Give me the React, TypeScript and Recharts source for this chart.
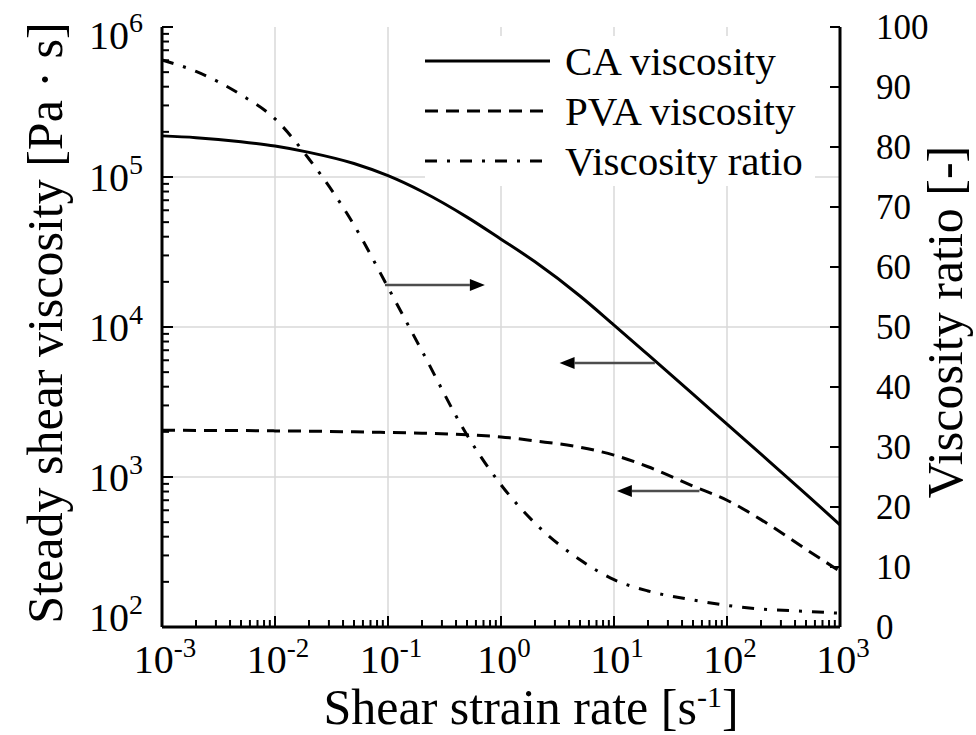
import React from "react";
import { LineChart, Line, XAxis, YAxis, ReferenceLine, Legend } from "recharts";

const SERIF = '"Liberation Serif", "Times New Roman", serif';

// shear strain rate [1/s]
const RATES = [0.001, 0.002, 0.005, 0.01, 0.02, 0.05, 0.1, 0.2, 0.5, 1, 2, 5, 10, 20, 50, 100, 200, 500, 1000];
// steady shear viscosity [Pa s]
const CA_VISCOSITY = [188000, 183000, 172000, 161000, 146000, 123000, 102000, 80000, 54000, 38500, 27200, 16100, 10300, 6540, 3570, 2250, 1420, 770, 480];
const PVA_VISCOSITY = [2050, 2045, 2040, 2030, 2020, 2000, 1980, 1960, 1910, 1850, 1740, 1580, 1400, 1170, 870, 700, 520, 330, 235];
// viscosity ratio [-]
const VISCOSITY_RATIO = [94.5, 92.6, 88.7, 84.7, 78, 67, 56.6, 46, 32, 23.7, 17.3, 11.2, 7.9, 6.0, 4.5, 3.6, 3.0, 2.6, 2.3];

const SERIES_NAMES = ["CA viscosity", "PVA viscosity", "Viscosity ratio"];
const SERIES_DASH = [undefined, "13 8", "12 10 3 10"];

const X_DECADES = [0.001, 0.01, 0.1, 1, 10, 100, 1000];
const X_EXPONENTS = ["-3", "-2", "-1", "0", "1", "2", "3"];
const Y_DECADES = [100, 1000, 10000, 100000, 1000000];
const Y_EXPONENTS = ["2", "3", "4", "5", "6"];
const RATIO_TICKS = [0, 10, 20, 30, 40, 50, 60, 70, 80, 90, 100];

// annotation arrows, [rate, value] pairs on the given axis
const ARROWS = [
  { from: [0.094, 57], to: [0.72, 57], axis: "right" },
  { from: [23, 5760], to: [3.3, 5760], axis: "left" },
  { from: [57, 807], to: [10.6, 807], axis: "left" },
];

const withMinor = (decades: number[]) =>
  decades.flatMap((d, i) =>
    i === decades.length - 1 ? [d] : [1, 2, 3, 4, 5, 6, 7, 8, 9].map((m) => m * d)
  );

const data = RATES.map((rate, i) => ({
  rate,
  ca: CA_VISCOSITY[i],
  pva: PVA_VISCOSITY[i],
  ratio: VISCOSITY_RATIO[i],
}));

const BottomTick = (props: any) => {
  const { x, y, payload } = props;
  const idx = X_DECADES.indexOf(payload.value);
  const major = idx >= 0;
  return (
    <g>
      <line x1={x} x2={x} y1={y} y2={y - (major ? 11 : 7)} stroke="#000" strokeWidth={2} />
      {major && (
        <text x={x + 3} y={y + 46} textAnchor="middle" fontFamily={SERIF} fontSize={40} fill="#000">
          10
          <tspan dy={-16} fontSize={27}>{X_EXPONENTS[idx]}</tspan>
        </text>
      )}
    </g>
  );
};

const LeftTick = (props: any) => {
  const { x, y, payload } = props;
  const idx = Y_DECADES.indexOf(payload.value);
  const major = idx >= 0;
  // the end labels sit slightly inside the axis range
  const shift = idx === 0 ? -10 : idx === Y_DECADES.length - 1 ? 8 : 0;
  return (
    <g>
      <line x1={x} x2={x + (major ? 11 : 7)} y1={y} y2={y} stroke="#000" strokeWidth={2} />
      {major && (
        <text x={x - 19} y={y + 14 + shift} textAnchor="end" fontFamily={SERIF} fontSize={40} fill="#000">
          10
          <tspan dy={-17} fontSize={28}>{Y_EXPONENTS[idx]}</tspan>
        </text>
      )}
    </g>
  );
};

const RightTick = (props: any) => {
  const { x, y, payload } = props;
  return (
    <g>
      <line x1={x} x2={x - 10} y1={y} y2={y} stroke="#000" strokeWidth={2} />
      <text x={x + 36} y={y + 12} textAnchor="start" fontFamily={SERIF} fontSize={35} fill="#000">
        {payload.value}
      </text>
    </g>
  );
};

const Arrow = (props: any) => {
  const { x1, y1, x2, y2 } = props;
  const dir = Math.sign(x2 - x1);
  const head = 15;
  return (
    <g>
      <line x1={x1} y1={y1} x2={x2 - dir * head} y2={y2} stroke="#4d4d4d" strokeWidth={2.5} />
      <polygon
        points={`${x2},${y2} ${x2 - dir * head},${y2 - 6} ${x2 - dir * head},${y2 + 6}`}
        fill="#000"
      />
    </g>
  );
};

const LegendBox = () => (
  <div style={{ background: "#fff", width: 390, fontFamily: SERIF, fontSize: 41, color: "#000" }}>
    {SERIES_NAMES.map((name, i) => (
      <div key={name} style={{ display: "flex", alignItems: "center", height: 50 }}>
        <svg width={125} height={10} style={{ flex: "none" }}>
          <line x1={0} x2={125} y1={5} y2={5} stroke="#000" strokeWidth={3} strokeDasharray={SERIES_DASH[i]} />
        </svg>
        <span style={{ marginLeft: 15, lineHeight: 1, whiteSpace: "nowrap" }}>{name}</span>
      </div>
    ))}
  </div>
);

export default function App() {
  return (
    <div style={{ position: "absolute", left: 0, top: 0, background: "#fff" }}>
      <LineChart width={976} height={735} data={data} margin={{ top: 27, right: 36, bottom: 28, left: 62 }}>
        {X_DECADES.slice(1, -1).map((d) => (
          <ReferenceLine key={`gx-${d}`} x={d} yAxisId="left" stroke="#d9d9d9" strokeWidth={1.5} />
        ))}
        {Y_DECADES.slice(1, -1).map((d) => (
          <ReferenceLine key={`gy-${d}`} y={d} yAxisId="left" stroke="#d9d9d9" strokeWidth={1.5} />
        ))}

        <XAxis
          dataKey="rate"
          type="number"
          scale="log"
          domain={[0.001, 1000]}
          ticks={withMinor(X_DECADES)}
          interval={0}
          tickLine={false}
          tickSize={0}
          tickMargin={0}
          tick={<BottomTick />}
          height={80}
          axisLine={{ stroke: "#000", strokeWidth: 3 }}
          label={{
            content: () => (
              <text x={531} y={724} textAnchor="middle" fontFamily={SERIF} fontSize={50} fill="#000">
                Shear strain rate [s
                <tspan dy={-17} fontSize={30}>-1</tspan>
                <tspan dy={17}>]</tspan>
              </text>
            ),
          }}
        />
        <XAxis
          xAxisId="top"
          orientation="top"
          dataKey="rate"
          type="number"
          scale="log"
          domain={[0.001, 1000]}
          height={0}
          tick={false}
          tickLine={false}
          axisLine={{ stroke: "#000", strokeWidth: 3 }}
        />
        <YAxis
          yAxisId="left"
          orientation="left"
          type="number"
          scale="log"
          domain={[100, 1000000]}
          ticks={withMinor(Y_DECADES)}
          interval={0}
          tickLine={false}
          tickSize={0}
          tickMargin={0}
          tick={<LeftTick />}
          width={100}
          axisLine={{ stroke: "#000", strokeWidth: 3 }}
          label={{
            content: () => (
              <text
                x={62}
                y={323}
                transform="rotate(-90, 62, 323)"
                textAnchor="middle"
                fontFamily={SERIF}
                fontSize={50}
                fill="#000"
              >
                Steady shear viscosity [Pa · s]
              </text>
            ),
          }}
        />
        <YAxis
          yAxisId="right"
          orientation="right"
          type="number"
          domain={[0, 100]}
          ticks={RATIO_TICKS}
          interval={0}
          tickLine={false}
          tickSize={0}
          tickMargin={0}
          tick={<RightTick />}
          width={100}
          axisLine={{ stroke: "#000", strokeWidth: 3 }}
          label={{
            content: () => (
              <text
                x={962}
                y={322}
                transform="rotate(-90, 962, 322)"
                textAnchor="middle"
                fontFamily={SERIF}
                fontSize={50}
                fill="#000"
              >
                Viscosity ratio [-]
              </text>
            ),
          }}
        />

        <Line
          yAxisId="left"
          type="monotone"
          dataKey="ca"
          name={SERIES_NAMES[0]}
          stroke="#000"
          strokeWidth={3}
          dot={false}
          activeDot={false}
          isAnimationActive={false}
        />
        <Line
          yAxisId="left"
          type="monotone"
          dataKey="pva"
          name={SERIES_NAMES[1]}
          stroke="#000"
          strokeWidth={3}
          strokeDasharray={SERIES_DASH[1]}
          dot={false}
          activeDot={false}
          isAnimationActive={false}
        />
        <Line
          yAxisId="right"
          type="monotone"
          dataKey="ratio"
          name={SERIES_NAMES[2]}
          stroke="#000"
          strokeWidth={3}
          strokeDasharray={SERIES_DASH[2]}
          dot={false}
          activeDot={false}
          isAnimationActive={false}
        />

        {ARROWS.map((a, i) => (
          <ReferenceLine
            key={`arrow-${i}`}
            yAxisId={a.axis}
            segment={[
              { x: a.from[0], y: a.from[1] },
              { x: a.to[0], y: a.to[1] },
            ]}
            shape={Arrow}
          />
        ))}

        <Legend
          layout="vertical"
          align="center"
          verticalAlign="middle"
          content={<LegendBox />}
          wrapperStyle={{ left: 425, top: 36, width: 390 }}
        />
      </LineChart>
    </div>
  );
}
